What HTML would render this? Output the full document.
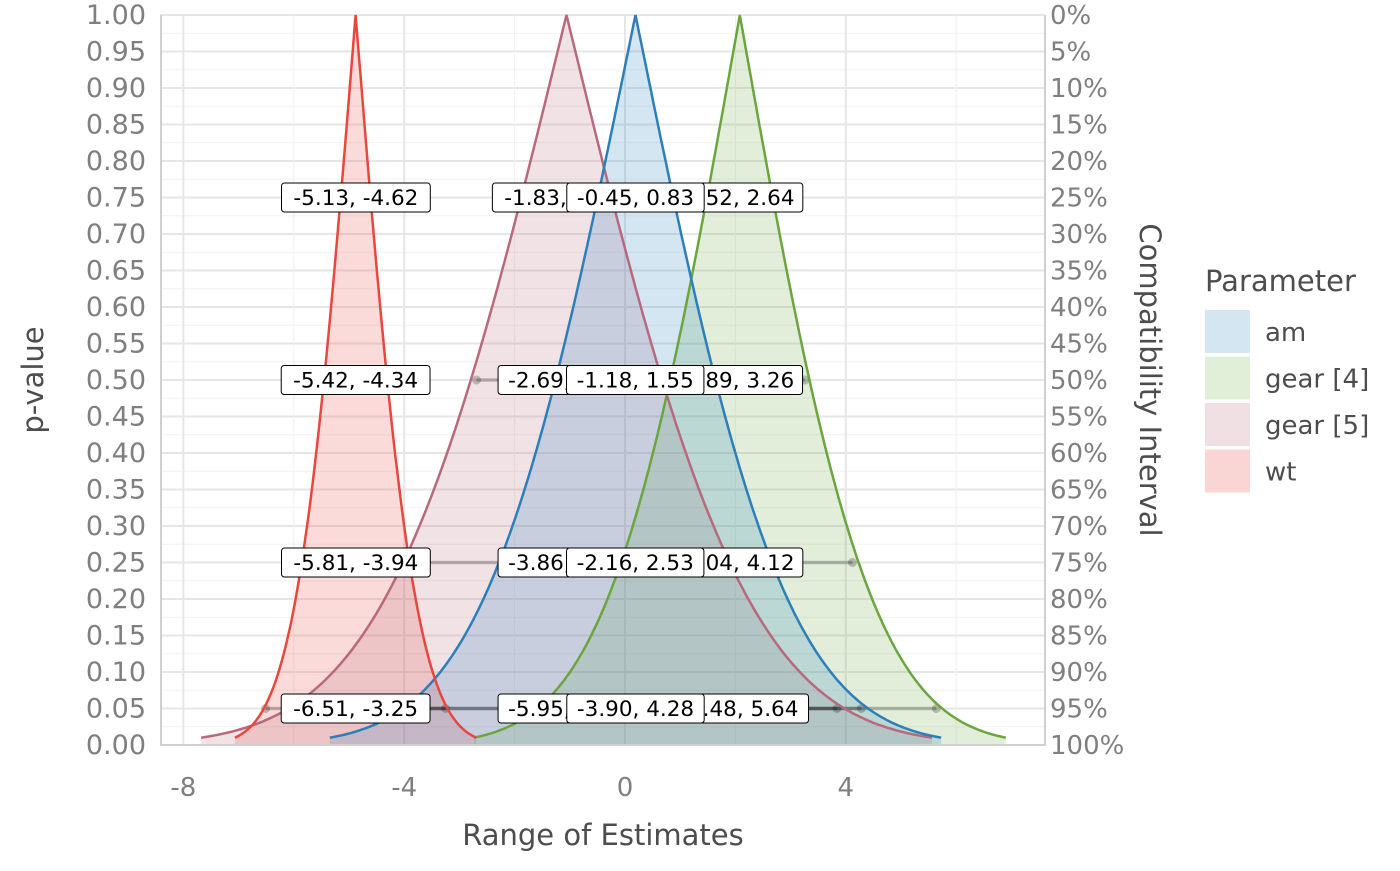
<!DOCTYPE html>
<html><head><meta charset="utf-8"><style>
body{margin:0;background:#fff;width:1400px;height:866px;overflow:hidden;font-family:"Liberation Sans","DejaVu Sans",sans-serif}
svg text{font-family:"DejaVu Sans","Liberation Sans",sans-serif}
</style></head><body>
<svg id="s" width="1400" height="866" xmlns="http://www.w3.org/2000/svg"></svg>
<script>
const S=document.getElementById('s');let h='';
const X=v=>625+v*55.2, Y=p=>745-p*730;
for(let i=0;i<=40;i++){const p=i*0.025,y=Y(p);h+=`<line x1="160" x2="1045" y1="${y}" y2="${y}" stroke="${i%2?'#f2f2f2':'#e6e6e6'}" stroke-width="${i%2?1:2}"/>`;}
for(let v=-8;v<=7;v+=2){const x=X(v);if(x<160||x>1045)continue;h+=`<line x1="${x}" x2="${x}" y1="15" y2="745" stroke="${v%4?'#f0f0f0':'#e6e6e6'}" stroke-width="${v%4?1:2}"/>`;}
function erf(x){const t=1/(1+0.3275911*Math.abs(x));const y=1-(((((1.061405429*t-1.453152027)*t)+1.421413741)*t-0.284496736)*t+0.254829592)*t*Math.exp(-x*x);return x>=0?y:-y;}
const P=[
{n:'wt',m:-4.88,se:0.832*1.02,c:'#e8473d',f:'rgba(236,90,80,0.22)',ci:[[-5.13,-4.62],[-5.42,-4.34],[-5.81,-3.94],[-6.51,-3.25]]},
{n:'g5',m:-1.06,se:2.495*1.03,c:'#b86a7c',f:'rgba(185,110,130,0.2)',ci:[[-1.83,-0.28],[-2.69,0.58],[-3.86,1.75],[-5.95,3.84]]},
{n:'g4',m:2.08,se:1.816*1.03,c:'#6aa63e',f:'rgba(110,170,70,0.2)',ci:[[1.52,2.64],[0.89,3.26],[0.04,4.12],[-1.48,5.64]]},
{n:'am',m:0.19,se:2.087*1.03,c:'#2c7fb8',f:'rgba(40,130,190,0.2)',ci:[[-0.45,0.83],[-1.18,1.55],[-2.16,2.53],[-3.90,4.28]]}];
const lv=[0.75,0.5,0.25,0.05];
P.forEach(o=>{const L=2.576*o.se;let pts=[];for(let i=0;i<=200;i++){const x=o.m-L+2*L*i/200;const z=Math.abs(x-o.m)/o.se;const p=1-erf(z/Math.SQRT2);pts.push([X(x),Y(p)]);}
 const ps=pts.map(q=>q[0].toFixed(1)+','+q[1].toFixed(1)).join(' ');
 h+=`<polygon points="${pts[0][0]},745 ${ps} ${pts[200][0]},745" fill="${o.f}"/>`;o.ps=ps;});
P.forEach(o=>{o.ci.forEach((c,i)=>{const y=Y(lv[i]);h+=`<line x1="${X(c[0])}" x2="${X(c[1])}" y1="${y}" y2="${y}" stroke="rgba(0,0,0,0.22)" stroke-width="3.5"/><circle cx="${X(c[0])}" cy="${y}" r="4.5" fill="rgba(0,0,0,0.22)"/><circle cx="${X(c[1])}" cy="${y}" r="4.5" fill="rgba(0,0,0,0.22)"/>`;});});
[2,1,3,0].forEach(k=>{h+=`<polyline points="${P[k].ps}" fill="none" stroke="${P[k].c}" stroke-width="2.5"/>`;});
P.forEach(o=>{o.ci.forEach((c,i)=>{const y=Y(lv[i]);const t=c[0].toFixed(2)+', '+c[1].toFixed(2);const w=t.length*11.4+12;const cx=X((c[0]+c[1])/2);
 h+=`<rect x="${cx-w/2}" y="${y-14.5}" width="${w}" height="29" rx="3" fill="#fff" stroke="#000" stroke-width="1"/><text x="${cx}" y="${y+7.5}" text-anchor="middle" font-size="21.5" fill="#000">${t}</text>`;});});
h+=`<line x1="161" x2="161" y1="15" y2="746" stroke="#d0d0d0" stroke-width="2"/><line x1="1045" x2="1045" y1="15" y2="746" stroke="#d0d0d0" stroke-width="2"/><line x1="160" x2="1046" y1="745" y2="745" stroke="#d0d0d0" stroke-width="2"/>`;
for(let i=0;i<=20;i++){const p=i*0.05,y=Y(p)+9;h+=`<text x="146" y="${y}" text-anchor="end" font-size="27" fill="#7f7f7f">${p.toFixed(2)}</text><text x="1050" y="${y}" font-size="26" fill="#7f7f7f">${Math.round(100-p*100)}%</text>`;}
[-8,-4,0,4].forEach(v=>{h+=`<text x="${X(v)}" y="796" text-anchor="middle" font-size="26" fill="#7f7f7f">${v}</text>`;});
h+=`<text x="603" y="845" text-anchor="middle" font-size="29" fill="#4d4d4d">Range of Estimates</text>`;
h+=`<text transform="translate(43,380) rotate(-90)" text-anchor="middle" font-size="29" fill="#4d4d4d">p-value</text>`;
h+=`<text transform="translate(1140,380) rotate(90)" text-anchor="middle" font-size="29" fill="#4d4d4d">Compatibility Interval</text>`;
h+=`<text x="1205" y="291" font-size="29" fill="#4d4d4d">Parameter</text>`;
[['am','#d4e6f1'],['gear [4]','#e1efd8'],['gear [5]','#f0e0e4'],['wt','#f9d5d3']].forEach((a,i)=>{const y=310+i*46.5;h+=`<rect x="1205" y="${y}" width="45" height="43" fill="${a[1]}"/><text x="1265" y="${y+31}" font-size="26" fill="#4d4d4d">${a[0]}</text>`;});
S.innerHTML=h;
</script>
</body></html>
